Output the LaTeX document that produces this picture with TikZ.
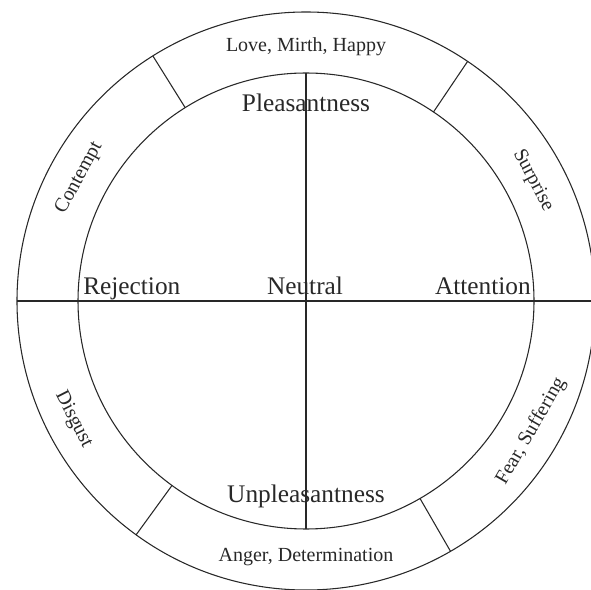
\documentclass[tikz,border=0pt]{standalone}
\usepackage{fontspec}
\setmainfont{Liberation Serif}
\usepackage{tikz}
\usetikzlibrary{positioning}
\definecolor{traco}{RGB}{40, 40, 40}

\begin{document}
\begin{tikzpicture}[x=0.75pt, y=0.75pt,
    linha/.style={draw=traco, line width=0.8pt},
    eixo/.style={text=traco, inner sep=0pt, font=\fontsize{19}{23}\selectfont},
    anel/.style={text=traco, inner sep=0pt, font=\fontsize{15}{18}\selectfont}]
  \useasboundingbox (0,0) rectangle (591,589);
  \coordinate (o) at (306,288);
  % circles and axes
  \draw[linha] (o) circle (289);
  \draw[linha] (o) circle (228);
  \draw[linha] ([shift={(180:289)}]o) -- ([shift={(0:289)}]o);
  \draw[linha] ([shift={(90:228)}]o) -- ([shift={(270:228)}]o);
  \foreach \a in {56,122,234,300}
    \draw[linha] ([shift={(\a:228)}]o) -- ([shift={(\a:289)}]o);
  % axis labels
  \node[eixo] (neutro) at ([shift={(-1,6)}]o) [anchor=base] {Neutral};
  \node[eixo] (prazer) at ([shift={(0,198)}]o) {Pleasantness};
  \node[eixo] (desprazer) at ([shift={(0,-201)}]o) [anchor=base] {Unpleasantness};
  \node[eixo] (rejeicao) at ([shift={(-223,6)}]o) [anchor=base west] {Rejection};
  \node[eixo] (atencao) at ([shift={(225,6)}]o) [anchor=base east] {Attention};
  % ring labels
  \node[anel] (amor) at ([shift={(90:254)}]o) {Love, Mirth, Happy};
  \node[anel, rotate=61.5] (desprezo) at ([shift={(151.5:258)}]o) {Contempt};
  \node[anel, rotate=-62] (surpresa) at ([shift={(28:257)}]o) {Surprise};
  \node[anel, rotate=-63] (nojo) at ([shift={(207:261)}]o) {Disgust};
  \node[anel] (raiva) at ([shift={(270:256)}]o) {Anger, Determination};
  \node[anel, rotate=60] (medo) at ([shift={(-30:260)}]o) {Fear, Suffering};
\end{tikzpicture}
\end{document}
